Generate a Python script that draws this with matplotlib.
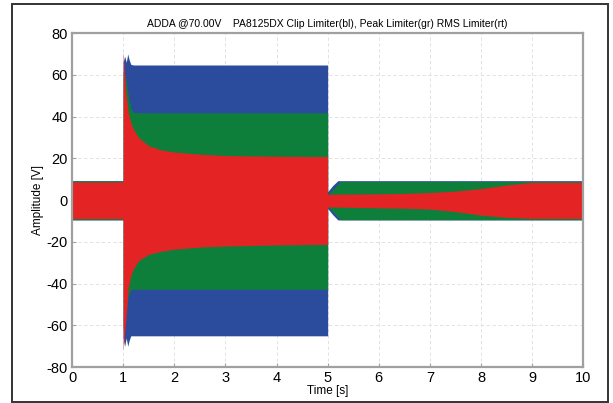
import numpy as np
import matplotlib.pyplot as plt
from matplotlib.patches import Rectangle

plt.rcParams['font.family'] = ['Liberation Sans', 'DejaVu Sans']
plt.rcParams['axes.unicode_minus'] = False

# envelope of the clip limiter (blue)
t_blue = [0, 1.0, 1.0, 1.03, 1.06, 1.09, 1.12, 1.15, 1.2, 5.0, 5.0, 5.1, 5.2, 10]
blue_top = [9.3, 9.3, 66, 69, 66, 70, 67, 65, 64.7, 64.7, 4, 7, 9.3, 9.3]
blue_bot = [-9.5, -9.5, -66, -70, -66, -70, -67, -65, -65, -65, -4, -7, -9.5, -9.5]

# envelope of the peak limiter (green)
t_green = [0, 1.0, 1.0, 1.05, 1.1, 1.15, 1.2, 1.3, 5.0, 5.0, 5.1, 5.25, 10]
green_top = [9.2, 9.2, 62, 58, 50, 44, 42, 41.8, 41.8, 2.5, 5, 8.9, 8.9]
green_bot = [-9.4, -9.4, -62, -55, -46, -43, -42.7, -42.7, -42.7, -3, -5.5, -9.4, -9.4]

# envelope of the RMS limiter (red)
t_red = [0, 1.0, 1.0, 1.05, 1.1, 1.15, 1.2, 1.3, 1.5, 1.75, 2.0, 2.5, 3.0, 4.0, 5.0,
         5.0, 5.5, 6.0, 6.5, 7.0, 7.5, 8.0, 8.5, 9.0, 10]
red_top = [8.7, 8.7, 71, 52, 42, 37, 34, 30, 26, 24, 23, 22, 21.3, 21, 20.8,
           2.8, 2.9, 3.0, 3.2, 3.6, 4.3, 5.5, 7.2, 8.5, 8.5]
red_bot = [-8.9, -8.9, -72, -58, -42, -36, -33, -29, -26, -24.5, -23.5, -22.5, -22, -21.5, -21.2,
           -3.3, -3.5, -3.7, -3.9, -4.3, -5.5, -7.2, -8.3, -8.8, -8.8]

fig = plt.figure(figsize=(6.13, 4.03), dpi=100)
ax = fig.add_axes([0.1175, 0.089, 0.834, 0.829])

ax.fill_between(t_blue, blue_bot, blue_top, color='#2b4c9c', lw=0)
ax.fill_between(t_green, green_bot, green_top, color='#0e7f3a', lw=0)
ax.fill_between(t_red, red_bot, red_top, color='#e42424', lw=0)

ax.set_xlim(0, 10)
ax.set_ylim(-80, 80)
ax.set_xticks(range(0, 11))
ax.set_yticks(range(-80, 81, 20))
ax.grid(True, ls=(0, (4, 3)), color='#dddddd', lw=0.6)
ax.set_axisbelow(True)
for s in ax.spines.values():
    s.set_color('#a0a0a0')
    s.set_linewidth(1.6)
ax.tick_params(direction='in', length=3, color='#a0a0a0', labelsize=10.5, pad=3)

ax.set_xlabel("Time [s]", fontsize=8.5, labelpad=0)
ax.set_ylabel("Amplitude [V]", fontsize=8.5, labelpad=2)
ax.set_title("ADDA @70.00V    PA8125DX Clip Limiter(bl), Peak Limiter(gr) RMS Limiter(rt)",
             fontsize=7.5, pad=4)

# outer frame
fig.patches.append(Rectangle((12 / 613, 1 / 403), 596 / 613, 398 / 403, transform=fig.transFigure,
                             fill=False, edgecolor='#333333', lw=1.4))

fig.savefig("out.png", dpi=100)
